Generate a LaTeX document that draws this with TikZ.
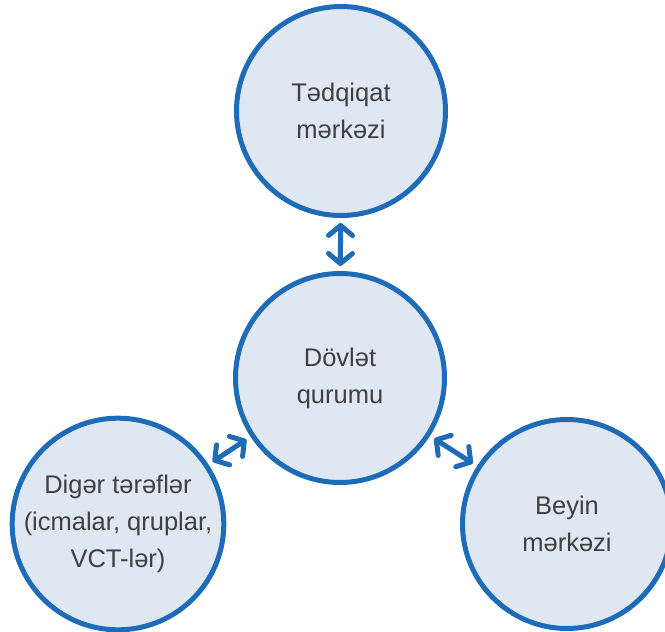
\documentclass[tikz,border=0pt]{standalone}
\usepackage{fontspec}
\setmainfont{Liberation Sans}
\usetikzlibrary{arrows.meta}
\definecolor{ringblue}{HTML}{1E6BB8}
\definecolor{discfill}{HTML}{DFE7F3}
\definecolor{txtgray}{HTML}{404040}
\tikzset{
    disc/.style={circle,draw=ringblue,line width=5pt,fill=discfill,
        minimum size=209pt,inner sep=0pt,align=center,text=txtgray,
        font=\fontsize{25.5}{37}\selectfont},
    barb/.tip={Straight Barb[round,length=10pt,width=24pt]},
    link/.style={draw=ringblue,line width=5pt,barb-barb,
        shorten <=5pt,shorten >=5pt}
}
\begin{document}
\begin{tikzpicture}[x=1pt,y=-1pt]
                \useasboundingbox (0,0) rectangle (665,632);
                \node[disc] (research) at (341,111) {Tədqiqat\\mərkəzi};
                \node[disc] (state) at (340,378) {Dövlət\\qurumu};
                \node[disc] (others) at (118,524) {Digər tərəflər\\(icmalar, qruplar,\\VCT-lər)};
                \node[disc] (brain) at (567,524) {Beyin\\mərkəzi};
                \draw[link] (research) -- (state);
                \draw[link] (others) -- (state);
                \draw[link] (state) -- (brain);
            \end{tikzpicture}
\end{document}
